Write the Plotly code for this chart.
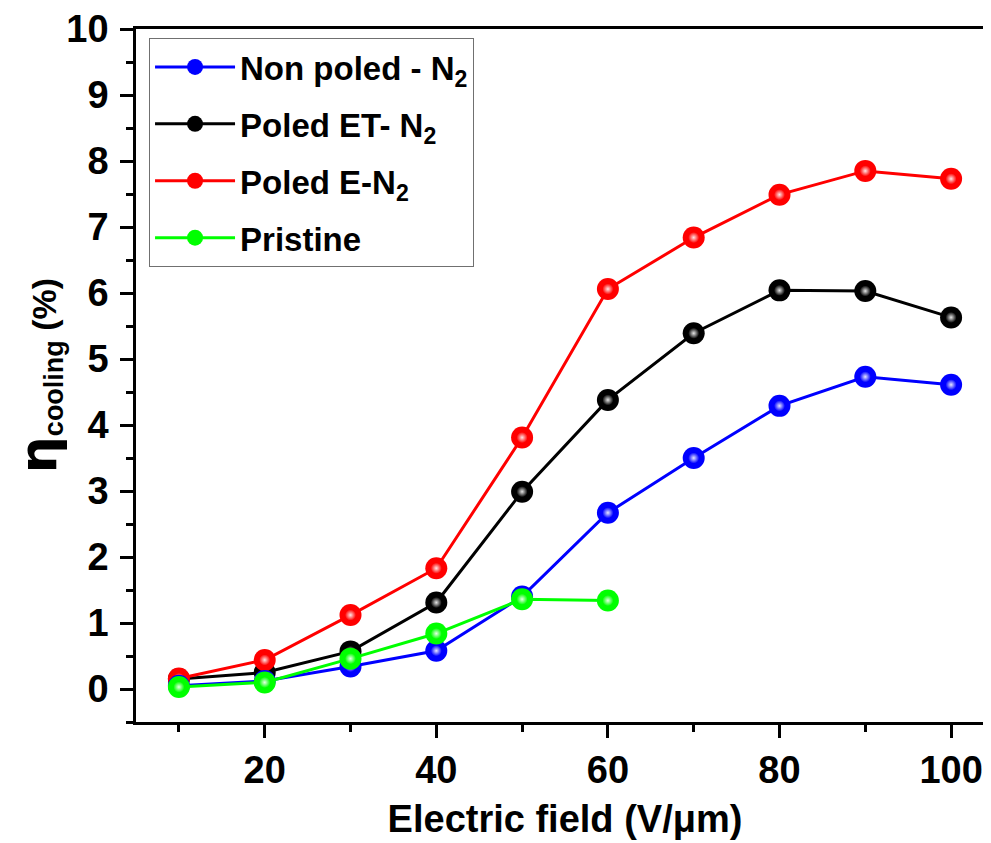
import plotly.graph_objects as go

field = [10, 20, 30, 40, 50, 60, 70, 80, 90, 100]
non_poled = [0.05, 0.12, 0.34, 0.58, 1.40, 2.67, 3.50, 4.29, 4.73, 4.61]
poled_et = [0.15, 0.25, 0.57, 1.31, 2.99, 4.38, 5.39, 6.04, 6.03, 5.63]
poled_e = [0.16, 0.44, 1.12, 1.83, 3.81, 6.06, 6.84, 7.49, 7.85, 7.73]
pristine_field = [10, 20, 30, 40, 50, 60]
pristine = [0.03, 0.10, 0.46, 0.84, 1.36, 1.34]

names = ["Non poled - N<sub>2</sub>", "Poled ET- N<sub>2</sub>", "Poled E-N<sub>2</sub>", "Pristine"]
colors = ["#0000FF", "#000000", "#FF0000", "#00FF00"]

FONT = "Liberation Sans, Arial, sans-serif"

fig = go.Figure()

def add_series(x, y, name, color, rank):
    fig.add_trace(go.Scatter(
        x=x, y=y, name=name, mode="lines+markers",
        line=dict(color=color, width=3),
        marker=dict(size=22, color=color, line=dict(width=0)),
        legendrank=rank, legendgroup=name,
    ))
    # specular highlight on each sphere
    fig.add_trace(go.Scatter(
        x=x, y=y, mode="markers", showlegend=False, hoverinfo="skip",
        marker=dict(size=11, color=color, line=dict(width=0), opacity=0.9,
                    gradient=dict(type="radial", color="#FFFFFF")),
        legendgroup=name,
    ))

add_series(field, poled_et, names[1], colors[1], 2)
add_series(field, poled_e, names[2], colors[2], 3)
add_series(field, non_poled, names[0], colors[0], 1)
add_series(pristine_field, pristine, names[3], colors[3], 4)

axis_common = dict(
    showline=True, linecolor="black", linewidth=2.5,
    ticks="outside", ticklen=13, tickwidth=2.5, tickcolor="black",
    showgrid=False, zeroline=False, automargin=False,
    tickfont=dict(family=FONT, size=38, color="black", weight="bold"),
)

fig.update_layout(
    width=991, height=843,
    margin=dict(l=128, r=5, t=21, b=129),
    paper_bgcolor="white", plot_bgcolor="white",
    showlegend=True,
    legend=dict(
        x=0.0152, y=0.987, xanchor="left", yanchor="top",
        bgcolor="white", bordercolor="#707070", borderwidth=1,
        font=dict(family=FONT, size=33, color="black", weight="bold"),
        tracegroupgap=11, itemwidth=80,
    ),
    xaxis=dict(
        range=[5, 105], tick0=0, dtick=20, mirror=True,
        minor=dict(ticks="outside", ticklen=7, tickwidth=2.5, tickcolor="black", dtick=10, tick0=0),
        title=dict(text="Electric field (V/μm)", standoff=16,
                   font=dict(family=FONT, size=38, color="black", weight="bold")),
        **axis_common,
    ),
    yaxis=dict(
        range=[-0.5, 10], tick0=0, dtick=1,
        minor=dict(ticks="outside", ticklen=7, tickwidth=2.5, tickcolor="black", dtick=0.5, tick0=0),
        title=dict(text="<span style='font-size:52px;font-family:DejaVu Sans'>η</span><sub><span style='font-size:27px'>cooling</span></sub> (%)",
                   standoff=16,
                   font=dict(family=FONT, size=34, color="black", weight="bold")),
        ticklabelstandoff=4,
        **axis_common,
    ),
)

fig.write_html("out.html")
